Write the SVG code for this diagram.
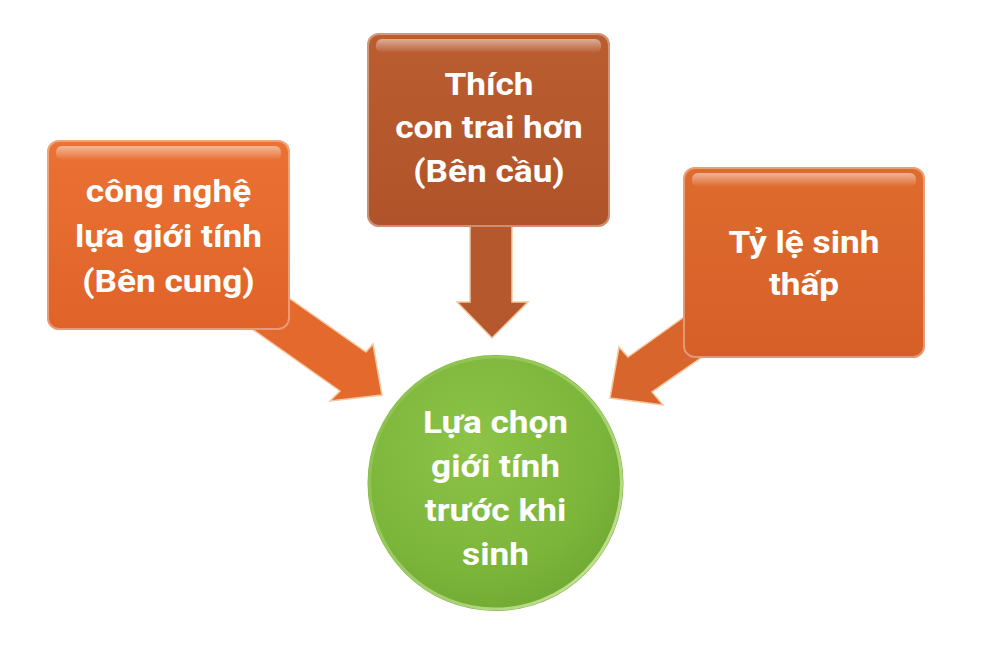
<svg xmlns="http://www.w3.org/2000/svg" width="982" height="672" viewBox="0 0 982 672">
<defs>
  <linearGradient id="gL" x1="0" y1="0" x2="0" y2="1">
    <stop offset="0" stop-color="#EA7233"/>
    <stop offset="1" stop-color="#E0632A"/>
  </linearGradient>
  <linearGradient id="gM" x1="0" y1="0" x2="0" y2="1">
    <stop offset="0" stop-color="#BA5E30"/>
    <stop offset="1" stop-color="#B0532A"/>
  </linearGradient>
  <linearGradient id="gR" x1="0" y1="0" x2="0" y2="1">
    <stop offset="0" stop-color="#DF6B2E"/>
    <stop offset="1" stop-color="#D65F28"/>
  </linearGradient>
  <linearGradient id="hl" x1="0" y1="0" x2="0" y2="1">
    <stop offset="0" stop-color="#fff" stop-opacity="0.5"/>
    <stop offset="1" stop-color="#fff" stop-opacity="0"/>
  </linearGradient>
  <radialGradient id="gC" cx="0.42" cy="0.35" r="0.7">
    <stop offset="0" stop-color="#8DC448"/>
    <stop offset="0.7" stop-color="#7BB53A"/>
    <stop offset="1" stop-color="#70A933"/>
  </radialGradient>
  <linearGradient id="rim" x1="0" y1="0" x2="1" y2="1">
    <stop offset="0" stop-color="#A8D46A" stop-opacity="0.2"/>
    <stop offset="1" stop-color="#D9EFB0" stop-opacity="0.9"/>
  </linearGradient>
</defs>
<style>
  .t{font-family:Roboto,"Liberation Sans",sans-serif;font-weight:700;font-size:32px;fill:#ffffff;text-anchor:middle}
  .arrow{stroke:#F6C7A0;stroke-width:1.5;stroke-linejoin:miter}
  .edge{fill:none;stroke:#ffffff;stroke-opacity:0.35;stroke-width:2}
</style>
<rect width="982" height="672" fill="#ffffff"/>

<g id="connectors">
  <polygon class="arrow" fill="#E4692C" points="266,282 366,352 373,344 382,395 330,401 340,391 242,322"/>
  <polygon class="arrow" fill="#B5582D" points="470,220 512,220 512,302 528,302 492,338 457,302 470,302"/>
  <polygon class="arrow" fill="#D8652B" points="705,302 628,357 619,347 610,398 663,405 652,392 728,339"/>
</g>

<g id="node-left">
  <rect x="47" y="140" width="243" height="190" rx="12" fill="url(#gL)"/>
  <rect x="56" y="146" width="225" height="14" rx="6" fill="url(#hl)"/>
  <rect x="48" y="141" width="241" height="188" rx="11" class="edge"/>
  <text class="t" transform="matrix(1.1 0 0 1 -16.85 0)"><tspan x="168.5" y="202">công nghệ</tspan><tspan x="168.5" y="247">lựa giới tính</tspan><tspan x="168.5" y="292">(Bên cung)</tspan></text>
</g>

<g id="node-middle">
  <rect x="367" y="33" width="243" height="194" rx="12" fill="url(#gM)"/>
  <rect x="376" y="39" width="225" height="14" rx="6" fill="url(#hl)"/>
  <rect x="368" y="34" width="241" height="192" rx="11" class="edge"/>
  <text class="t" transform="matrix(1.1 0 0 1 -48.9 0)"><tspan x="489" y="95">Thích</tspan><tspan x="489" y="138">con trai hơn</tspan><tspan x="489" y="182">(Bên cầu)</tspan></text>
</g>

<g id="node-right">
  <rect x="683" y="167" width="242" height="191" rx="12" fill="url(#gR)"/>
  <rect x="692" y="173" width="224" height="14" rx="6" fill="url(#hl)"/>
  <rect x="684" y="168" width="240" height="189" rx="11" class="edge"/>
  <text class="t" transform="matrix(1.1 0 0 1 -80.4 0)"><tspan x="804" y="253">Tỷ lệ sinh</tspan><tspan x="804" y="295">thấp</tspan></text>
</g>

<g id="node-center">
  <circle cx="495.5" cy="483" r="128" fill="url(#gC)"/>
  <circle cx="495.5" cy="483" r="126" fill="none" stroke="url(#rim)" stroke-width="3"/>
  <text class="t" transform="matrix(1.1 0 0 1 -49.55 0)"><tspan x="495.5" y="433">Lựa chọn</tspan><tspan x="495.5" y="477">giới tính</tspan><tspan x="495.5" y="521">trước khi</tspan><tspan x="495.5" y="565">sinh</tspan></text>
</g>
</svg>
